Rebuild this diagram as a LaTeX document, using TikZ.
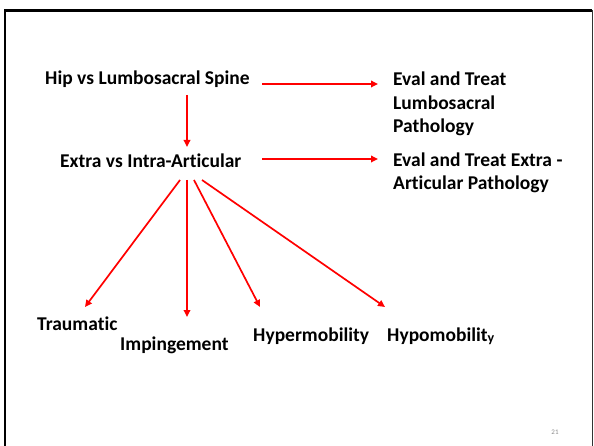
\documentclass[tikz,border=0pt]{standalone}
\usepackage{fontspec}
\setmainfont{Carlito}[Ligatures=NoCommon]
\usetikzlibrary{arrows.meta}

\begin{document}
\begin{tikzpicture}[x=1pt, y=-1pt,
    redarrow/.style={draw=red, line width=1.7pt, -{Triangle[length=7pt,width=6.5pt]}},
    label/.style={inner sep=0pt, font=\fontsize{19.5}{23.5}\selectfont\bfseries, align=left}]
    \useasboundingbox (0,0) rectangle (594,446);
    % slide frame
    \draw [line width=2.2pt] (5,446) -- (5,10.5) -- (592,10.5);
    \draw [line width=1pt, black!80] (592.5,10.5) -- (592.5,446);

    % labels
    \node [label, anchor=base west] (hip) at (45,85) {Hip vs Lumbosacral Spine};
    \node [label, anchor=base west] (extra) at (60,168) {Extra vs Intra-Articular};
    \node [label, anchor=north west] (evallumb) at (393,72) {Eval and Treat\\Lumbosacral\\Pathology};
    \node [label, anchor=north west] (evalextra) at (393,152.5) {Eval and Treat Extra -\\Articular Pathology};
    \node [label, anchor=base west] (trauma) at (37,330) {Traumatic};
    \node [label, anchor=base west] (imping) at (120,350) {Impingement};
    \node [label, anchor=base west] (hyper) at (253,341) {Hypermobility};
    \node [label, anchor=base west] (hypo) at (387,341)
        {Hypomobilit\raisebox{-1.5pt}{\fontsize{14}{14}\selectfont y}};
    \node [inner sep=0pt, font=\fontsize{7}{7}\selectfont, text=black!45] (pagenum) at (555,432) {21};

    % arrow ends
    \coordinate (hipright) at (262,84);
    \coordinate (lumbleft) at (378,84);
    \coordinate (hipdown) at (187,95);
    \coordinate (extraup) at (187,147);
    \coordinate (extraright) at (262,159);
    \coordinate (evalleft) at (378,159);
    \coordinate (fanA) at (180,180);
    \coordinate (fanB) at (187,180);
    \coordinate (fanC) at (194,180);
    \coordinate (fanD) at (202,180);
    \coordinate (traumatip) at (85,307);
    \coordinate (impingtip) at (187,317);
    \coordinate (hypertip) at (260,307);
    \coordinate (hypotip) at (385,307);

    \draw [redarrow] (hipright) -- (lumbleft);
    \draw [redarrow] (hipdown) -- (extraup);
    \draw [redarrow] (extraright) -- (evalleft);

    \draw [redarrow] (fanA) -- (traumatip);
    \draw [redarrow] (fanB) -- (impingtip);
    \draw [redarrow] (fanC) -- (hypertip);
    \draw [redarrow] (fanD) -- (hypotip);

\end{tikzpicture}
\end{document}
